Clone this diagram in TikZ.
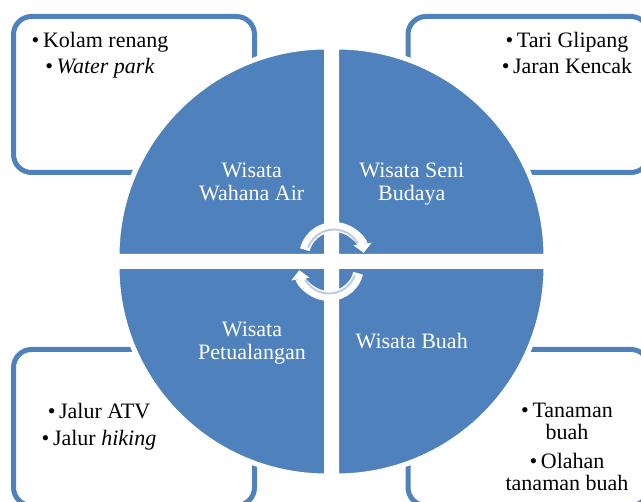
\documentclass[tikz,border=0pt]{standalone}
\usepackage{fontspec}
\setmainfont{Liberation Serif}
\usetikzlibrary{arrows.meta}
\definecolor{quadblue}{RGB}{79,129,189}
\definecolor{arrowline}{RGB}{190,204,226}
\tikzstyle{infobox} = [draw=quadblue, line width=5pt, rectangle, rounded corners=18pt,
minimum width=241pt, minimum height=156pt, inner sep=0pt]
\tikzstyle{quadrant} = [fill=quadblue, draw=white, line width=5pt]
\tikzstyle{listtext} = [align=center, anchor=north, inner sep=0pt,
font=\fontsize{22}{22}\selectfont]
\tikzstyle{quadlabel} = [align=center, anchor=north, inner sep=0pt, text=white,
font=\fontsize{22}{23}\selectfont]
\tikzstyle{cyclearrow} = [draw=white, line width=10pt, -{Triangle[width=18pt,length=9pt]}]
\tikzstyle{cycleline} = [draw=arrowline, line width=2pt]

\begin{document}
\begin{tikzpicture}[x=1pt,y=1pt]
		\useasboundingbox (0,0) rectangle (641,502);
		\clip (0,0) rectangle (641,502);
		% boxes behind the circle
		\node [infobox] (airbox) at (134,407.5) {};
		\node [infobox] (senibox) at (528.5,407.5) {};
		\node [infobox] (petualanganbox) at (134,74.5) {};
		\node [infobox] (buahbox) at (528.5,74.5) {};
		% four quarters of the circle
		\draw [quadrant] (326.5,245.5) -- ++(-209.5,0) arc [start angle=180, end angle=90, radius=209.5] -- cycle;
		\draw [quadrant] (336.5,245.5) -- ++(0,209.5) arc [start angle=90, end angle=0, radius=209.5] -- cycle;
		\draw [quadrant] (326.5,235.5) -- ++(-209.5,0) arc [start angle=180, end angle=270, radius=209.5] -- cycle;
		\draw [quadrant] (336.5,235.5) -- ++(209.5,0) arc [start angle=0, end angle=-90, radius=209.5] -- cycle;
		% labels
		\node [quadlabel] (airlabel) at (251.7,339.7) {Wisata\\Wahana Air};
		\node [quadlabel] (senilabel) at (411.8,339.7) {Wisata Seni\\Budaya};
		\node [quadlabel] (petualanganlabel) at (252,180.3) {Wisata\\Petualangan};
		\node [quadlabel] (buahlabel) at (411.7,168.7) {Wisata Buah};
		% lists
		\node [listtext] (airlist) at (100,470.3) {\textbullet\,Kolam renang\\[4pt]\textbullet\,\textit{Water park}};
		\node [listtext] (senilist) at (567,470.3) {\textbullet\,Tari Glipang\\[4pt]\textbullet\,Jaran Kencak};
		\node [listtext] (petualanganlist) at (99,99) {\textbullet\,Jalur ATV\\[5pt]\textbullet\,Jalur \textit{hiking}};
		\node [listtext] (buahlist) at (567,99) {\textbullet\,Tanaman\\buah\\[7pt]\textbullet\,Olahan\\tanaman buah};
		% cycle arrows
		\coordinate (uppercycle) at (334,245);
		\coordinate (lowercycle) at (329,236);
		\draw [cyclearrow] (uppercycle) ++(166:30) arc [start angle=166, end angle=8, radius=30];
		\draw [cycleline] (uppercycle) ++(160:27.5) arc [start angle=160, end angle=30, radius=27.5];
		\draw [cyclearrow] (lowercycle) ++(-14:30) arc [start angle=-14, end angle=-172, radius=30];
		\draw [cycleline] (lowercycle) ++(-20:27.5) arc [start angle=-20, end angle=-150, radius=27.5];
\end{tikzpicture}
\end{document}
